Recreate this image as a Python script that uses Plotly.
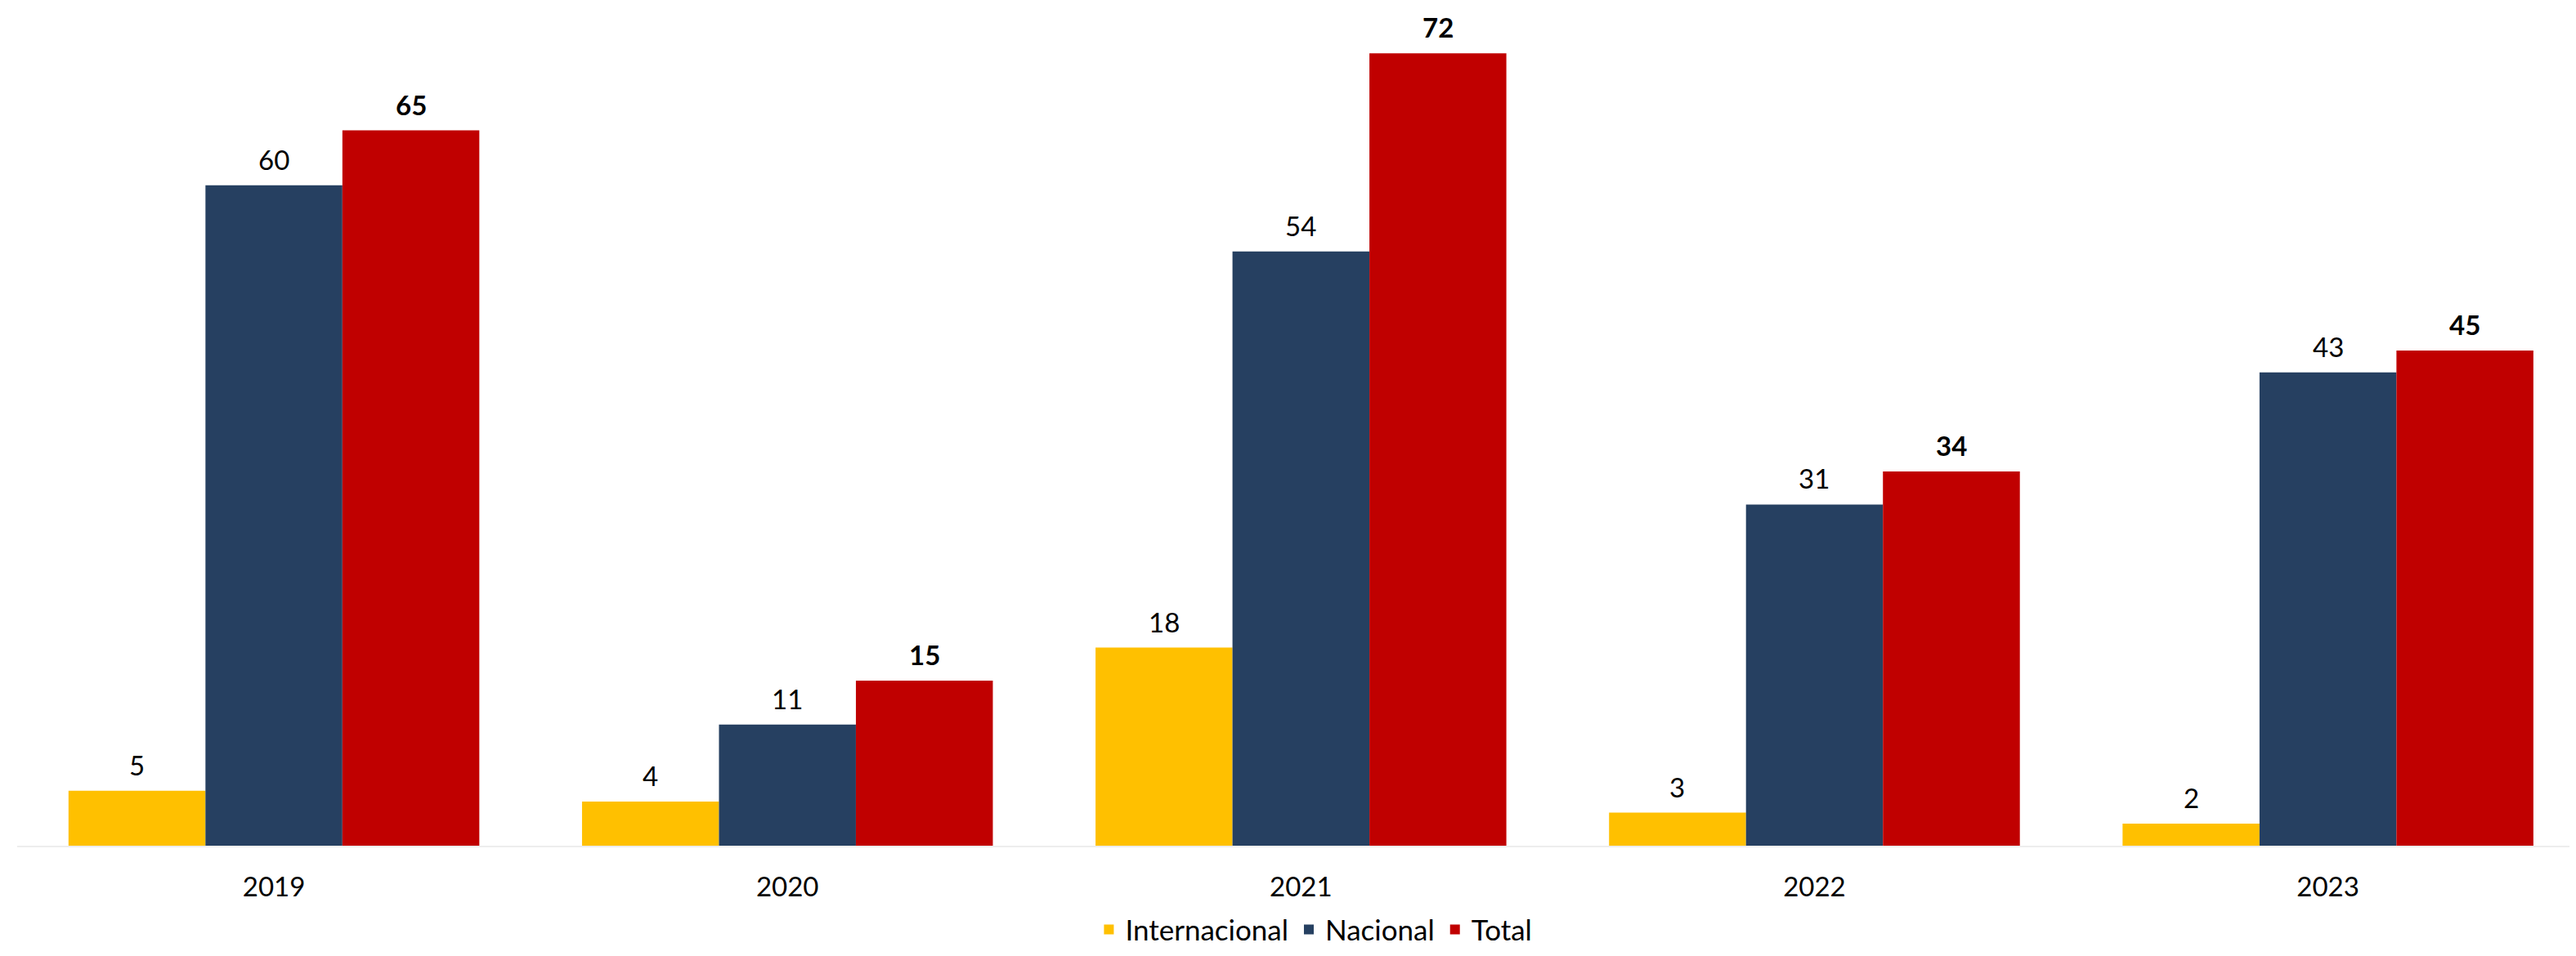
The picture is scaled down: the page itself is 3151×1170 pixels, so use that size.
import plotly.graph_objects as go

years = ["2019", "2020", "2021", "2022", "2023"]
internacional = [5, 4, 18, 3, 2]
nacional = [60, 11, 54, 31, 43]
total = [65, 15, 72, 34, 45]

series = [
    ("Internacional", internacional, "#FFC000", False),
    ("Nacional", nacional, "#264061", False),
    ("Total", total, "#C00000", True),
]

FONT = "Lato"
# page has an 8px body margin; size figure so it fills the 3151x1170 window
W, H = 3143, 1162
ML, MR, MT, MB = 13, 0, 0, 135
XMAX = 4.483
bargap = 0.2
unit_px = (W - ML - MR) / (XMAX + 0.5)
bar_px = unit_px * (1 - bargap) / len(series)

fig = go.Figure()
annotations = []
for i, (name, vals, color, bold) in enumerate(series):
    fig.add_trace(go.Bar(
        name=name, x=years, y=vals,
        marker=dict(color=color, line=dict(width=0)),
    ))
    for j, v in enumerate(vals):
        annotations.append(dict(
            x=j, y=v, xref="x", yref="y",
            text=f"<b>{v}</b>" if bold else str(v),
            showarrow=False, yanchor="bottom", xanchor="center",
            xshift=(i - 1) * bar_px, yshift=10,
            font=dict(family=FONT, size=33, color="#000000"),
        ))

fig.update_layout(
    width=W, height=H,
    margin=dict(l=ML, r=MR, t=MT, b=MB, autoexpand=False),
    paper_bgcolor="white", plot_bgcolor="white",
    barmode="group", bargap=bargap, bargroupgap=0,
    annotations=annotations,
    showlegend=True,
    legend=dict(
        orientation="h", xanchor="center", x=0.507, yanchor="middle", y=-0.1,
        font=dict(family=FONT, size=35, color="#000000"),
        itemwidth=30, traceorder="normal",
    ),
    font=dict(family=FONT, size=33, color="#000000"),
)
fig.update_xaxes(
    type="category",
    range=[-0.5, XMAX], showgrid=False, zeroline=False,
    showline=True, linecolor="#EDEDED", linewidth=2,
    ticks="outside", ticklen=20, tickcolor="rgba(0,0,0,0)",
    tickfont=dict(family=FONT, size=33, color="#000000"),
)
fig.update_yaxes(
    range=[0, 76.25], showgrid=False, zeroline=False, showline=False,
    showticklabels=False, ticks="",
)

fig.write_html("out.html")
